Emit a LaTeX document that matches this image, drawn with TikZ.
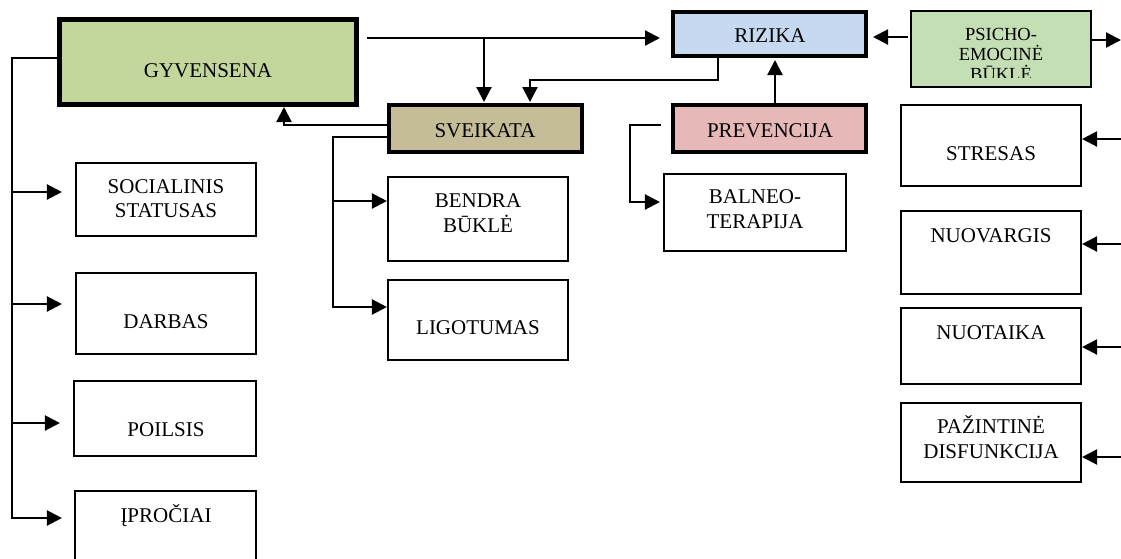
\documentclass[tikz,border=0pt]{standalone}
\usepackage{fontspec}
\setmainfont{Liberation Serif}
\usetikzlibrary{arrows.meta,calc}
\definecolor{gyvfill}{HTML}{C3D69B}
\definecolor{rizfill}{HTML}{C6D9F1}
\definecolor{svefill}{HTML}{C4BD97}
\definecolor{prefill}{HTML}{E6B9B8}
\definecolor{psifill}{HTML}{C4DFB4}
\begin{document}
\begin{tikzpicture}[x=1pt,y=-1pt,
  bx/.style={draw, inner sep=0pt, line width=1.6pt, fill=white},
  bigbox/.style={draw, inner sep=0pt, line width=4pt},
  txt/.style={font=\fontsize{21}{24.5}\selectfont, inner sep=0pt, anchor=base},
  stxt/.style={font=\fontsize{18.5}{20}\selectfont, inner sep=0pt, anchor=base},
  conn/.style={line width=2.2pt},
  arr/.style={conn, -{Triangle[length=15pt,width=15pt]}}
]
\useasboundingbox (0,0) rectangle (1121,558);
\clip (0,0) rectangle (1121,558);

% boxes
\node[bigbox, line width=5pt, fill=gyvfill, minimum width=297pt, minimum height=85pt] (gyv) at (208,62) {};
\node[bigbox, fill=rizfill, minimum width=193pt, minimum height=44pt] (riz) at (769.5,34) {};
\node[bigbox, fill=svefill, minimum width=193pt, minimum height=47pt] (sve) at (485.5,128.5) {};
\node[bigbox, fill=prefill, minimum width=193pt, minimum height=47pt] (pre) at (769.5,128.5) {};
\node[bx, fill=psifill, minimum width=180.5pt, minimum height=76.5pt] (psi) at (1001,49) {};
\node[bx, minimum width=180.5pt, minimum height=81.5pt] (str) at (991,145.5) {};
\node[bx, minimum width=180.5pt, minimum height=83.5pt] (nuov) at (991,252.5) {};
\node[bx, minimum width=180.5pt, minimum height=76.5pt] (nuot) at (991,346) {};
\node[bx, minimum width=180.5pt, minimum height=79.5pt] (paz) at (991,442.5) {};
\node[bx, minimum width=180.5pt, minimum height=73.5pt] (soc) at (166,199.5) {};
\node[bx, minimum width=180.5pt, minimum height=81.5pt] (dar) at (166,313.5) {};
\node[bx, minimum width=182.5pt, minimum height=75.5pt] (poi) at (165,418.5) {};
\node[bx, minimum width=181.5pt, minimum height=83.5pt] (ipr) at (165.5,532.5) {};
\node[bx, minimum width=180.5pt, minimum height=84.5pt] (ben) at (478,219) {};
\node[bx, minimum width=180.5pt, minimum height=80.5pt] (lig) at (478,320) {};
\node[bx, minimum width=182.5pt, minimum height=77.5pt] (bal) at (755,212.5) {};

% texts
\node[txt] (gyvT) at (208,77) {GYVENSENA};
\node[txt] (rizT) at (770,42) {RIZIKA};
\node[txt] (sveT) at (485,137) {SVEIKATA};
\node[txt] (preT) at (770,137) {PREVENCIJA};
\node[stxt] (psiT1) at (1001,40) {PSICHO-};
\node[stxt] (psiT2) at (1001,60) {EMOCINĖ};
\begin{scope}
  \clip (905,0) rectangle (1095,77);
  \node[stxt] (psiT3) at (1001,80) {BŪKLĖ};
\end{scope}
\node[txt] (strT) at (991,160) {STRESAS};
\node[txt] (nuovT) at (991,242) {NUOVARGIS};
\node[txt] (nuotT) at (991,339) {NUOTAIKA};
\node[txt] (pazT1) at (991,433) {PAŽINTINĖ};
\node[txt] (pazT2) at (991,458) {DISFUNKCIJA};
\node[txt] (socT1) at (166,193) {SOCIALINIS};
\node[txt] (socT2) at (166,217) {STATUSAS};
\node[txt] (darT) at (166,328) {DARBAS};
\node[txt] (poiT) at (166,436) {POILSIS};
\node[txt] (iprT) at (166,522) {ĮPROČIAI};
\node[txt] (benT1) at (478,207) {BENDRA};
\node[txt] (benT2) at (478,232) {BŪKLĖ};
\node[txt] (ligT) at (478,334) {LIGOTUMAS};
\node[txt] (balT1) at (755,203) {BALNEO-};
\node[txt] (balT2) at (755,228) {TERAPIJA};

% connectors: gyvensena trunk
\draw[arr, shorten >=12pt] (gyv.west |- 0,58) -| (12,518) -- (ipr.west |- 0,518);
\foreach \n/\y in {soc/192,dar/304,poi/423}
  \draw[arr, shorten >=13pt] (12,\y) -- (\n.west |- 0,\y);

% top line to rizika and branch to sveikata
\draw[arr, shorten <=8pt, shorten >=11pt] (gyv.east |- 0,38) -- (riz.west |- 0,38);
\draw[arr, shorten >=1pt] (484,38) -- (484,38 |- sve.north);
\draw[arr, shorten >=1pt] (riz.south -| 718,0) |- (530,80) -- (530,80 |- sve.north);

% sveikata to gyvensena and children
\draw[arr] (sve.west |- 0,125) -| (284,0 |- gyv.south);
\draw[arr] (sve.west |- 0,137) -| (333,307) -- (lig.west |- 0,307);
\draw[arr] (333,201) -- (ben.west |- 0,201);

% prevencija
\draw[arr, shorten <=10pt, shorten >=3pt] (pre.west |- 0,125) -| (630,202) -- (bal.west |- 0,202);
\draw[arr, shorten >=2pt] (pre.north -| 775,0) -- (riz.south -| 775,0);

% psicho-emocine bukle
\draw[arr, shorten <=2pt, shorten >=5pt] (psi.west |- 0,37) -- (riz.east |- 0,37);
\coordinate (rOut) at (1121,40);
\draw[arr] (psi.east |- rOut) -- (rOut);
\foreach \n/\y in {str/139,nuov/244,nuot/347,paz/457}
  \draw[arr] (1121,\y) -- (\n.east |- 0,\y);
\end{tikzpicture}
\end{document}
